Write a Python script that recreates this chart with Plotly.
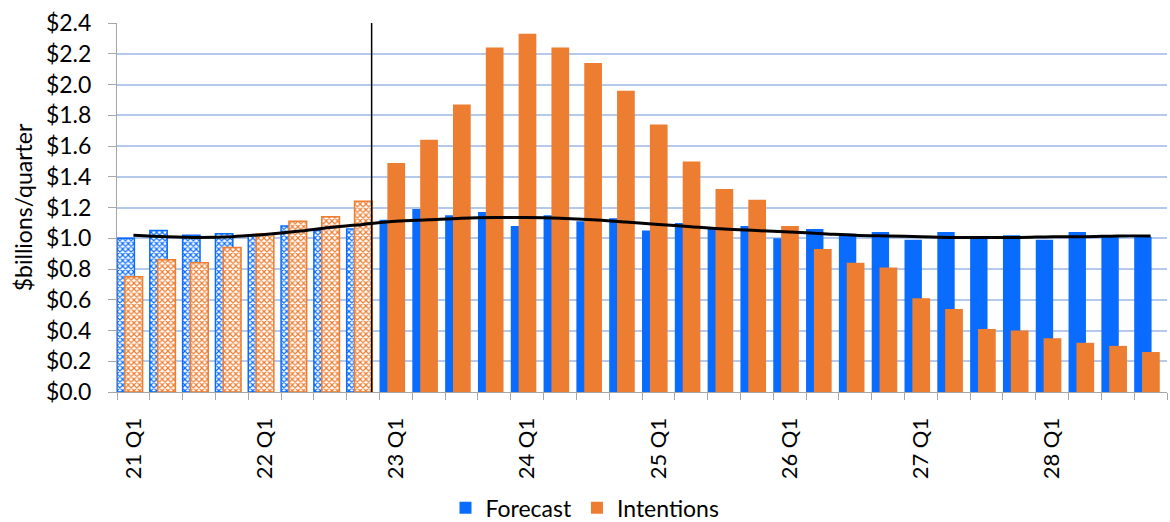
import plotly.graph_objects as go

# Quarterly series, 2021 Q1 .. 2028 Q4 ($ billions per quarter)
quarters = [f"{yy} Q{q}" for yy in range(21, 29) for q in range(1, 5)]

forecast = [1.00, 1.05, 1.02, 1.03, 1.02, 1.08, 1.05, 1.06,
            1.12, 1.19, 1.15, 1.17, 1.08, 1.15, 1.11, 1.13,
            1.05, 1.10, 1.07, 1.08, 1.00, 1.06, 1.03, 1.04,
            0.99, 1.04, 1.01, 1.02, 0.99, 1.04, 1.01, 1.01]

intentions = [0.75, 0.86, 0.84, 0.94, 1.03, 1.11, 1.14, 1.24,
              1.49, 1.64, 1.87, 2.24, 2.33, 2.24, 2.14, 1.96,
              1.74, 1.50, 1.32, 1.25, 1.08, 0.93, 0.84, 0.81,
              0.61, 0.54, 0.41, 0.40, 0.35, 0.32, 0.30, 0.26]

trend = [1.02, 1.01, 1.005, 1.01, 1.025, 1.045, 1.07, 1.09,
         1.11, 1.12, 1.13, 1.135, 1.135, 1.13, 1.12, 1.105,
         1.09, 1.075, 1.06, 1.05, 1.04, 1.03, 1.02, 1.015,
         1.01, 1.005, 1.005, 1.005, 1.01, 1.01, 1.015, 1.015]

n_actual = 8  # 2021-2022 quarters are shown hatched

BLUE = "#0a6cff"
ORANGE = "#ed7d31"
GRID = "#b4c9ec"
AXIS = "#a6a6a6"
FONT = "Lato"

idx = list(range(len(quarters)))
hist = idx[:n_actual]
proj = idx[n_actual:]

fig = go.Figure()


def add_bars(name, values, color, offset, width):
    # hatched history
    fig.add_trace(go.Bar(
        x=hist, y=values[:n_actual], name=name, showlegend=False,
        offset=offset, width=width, legendgroup=name,
        marker=dict(color="white", line=dict(color=color, width=1.5),
                    pattern=dict(shape="x", size=4, solidity=0.5,
                                 fgcolor=color, bgcolor="white",
                                 fillmode="replace")),
        hoverinfo="skip"))
    # solid projection
    fig.add_trace(go.Bar(
        x=proj, y=values[n_actual:], name=name, legendgroup=name,
        offset=offset, width=width,
        marker=dict(color=color, line=dict(width=0)),
    ))


add_bars("Forecast", forecast, BLUE, 0.0, 0.53)
add_bars("Intentions", intentions, ORANGE, 0.24, 0.54)

fig.add_trace(go.Scatter(
    x=[i + 0.5 for i in idx], y=trend, mode="lines", showlegend=False,
    line=dict(color="black", width=3, shape="spline", smoothing=1.0),
))

# divider between history and projection
fig.add_shape(type="line", x0=7.76, x1=7.76, y0=0, y1=2.4,
              xref="x", yref="y", line=dict(color="black", width=1.5),
              layer="above")

fig.update_layout(
    width=1170, height=522,
    margin=dict(l=117, r=3, t=23, b=130, autoexpand=False),
    barmode="overlay",
    plot_bgcolor="white", paper_bgcolor="white",
    font=dict(family=FONT, size=22, color="black"),
    legend=dict(orientation="h", xref="container", x=0.5, xanchor="center",
                yref="container", y=0.027, yanchor="middle",
                font=dict(size=23), itemwidth=30, traceorder="normal"),
    xaxis=dict(
        range=[0, 32], showgrid=False, zeroline=False,
        showline=True, linecolor=AXIS, linewidth=1,
        tickvals=[i + 0.5 for i in idx[::4]],
        ticktext=quarters[::4], tickangle=-90, ticks="",
        ticklabelstandoff=16,
        tickfont=dict(size=22),
        minor=dict(tick0=0, dtick=1, ticks="outside", ticklen=7,
                   tickcolor=AXIS, showgrid=False),
    ),
    yaxis=dict(
        range=[0, 2.4], dtick=0.2, tickprefix="$", tickformat=".1f",
        showgrid=True, gridcolor=GRID, gridwidth=1.5,
        zeroline=False, showline=True, linecolor=AXIS, linewidth=1,
        ticks="outside", ticklen=8, tickcolor=AXIS,
        ticklabelstandoff=12,
        tickfont=dict(size=23),
        title=dict(text="$billions/quarter", font=dict(size=23), standoff=6),
    ),
)

fig.write_html("out.html")
